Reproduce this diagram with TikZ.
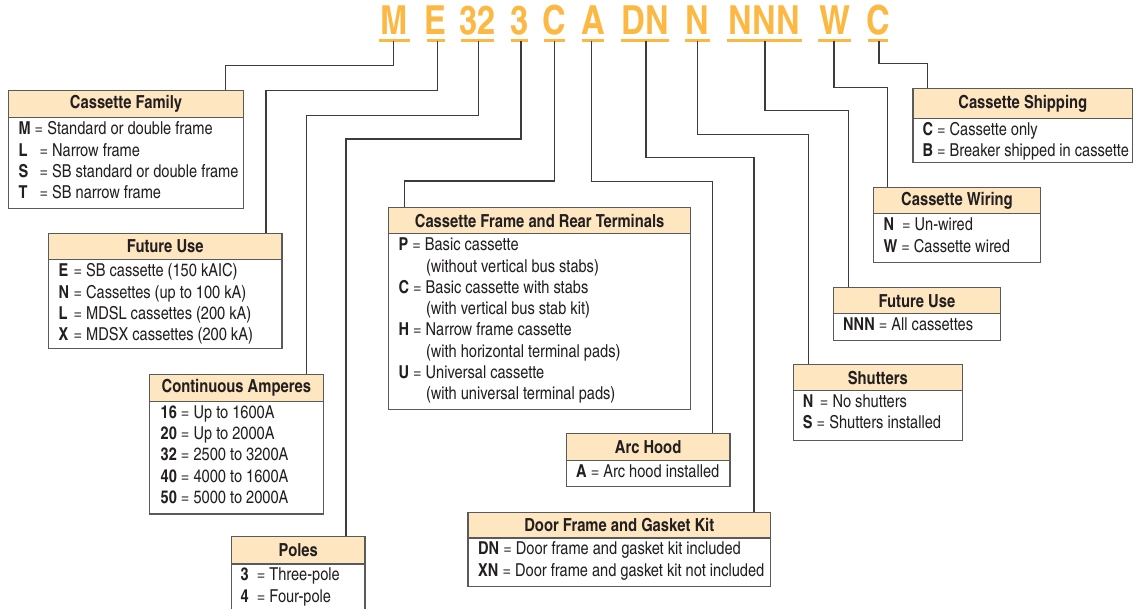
\documentclass[tikz,border=0pt]{standalone}
\usepackage{fontspec}
\setmainfont{texgyreheroscn}[Extension=.otf, UprightFont=*-regular, BoldFont=*-bold, ItalicFont=*-italic, BoldItalicFont=*-bolditalic]
\definecolor{codeor}{HTML}{FDB843}
\definecolor{hdrfill}{HTML}{FDE6C0}
\definecolor{linegray}{HTML}{3C3C3C}
\definecolor{boxgray}{HTML}{5A5A5A}
\definecolor{txt}{HTML}{231F20}
\newcommand\ky[2]{\makebox[#1][l]{\textbf{#2}}}
\newcommand\cbox[7]{%
  \node[bodyb, minimum width={(#4-#2)*1pt}, minimum height={(#6-#5)*1pt}] (#1-b) at (#2,#5) {};
  \node[hdr, minimum width={(#4-#2)*1pt}, minimum height={(#5-#3)*1pt}] (#1) at (#2,#3) {#7};
}
\newcommand\rws[4]{%
  \foreach \t [count=\i] in {#4} \node[row] (#1-r\i) at (#2, {#3+(\i-1)*21.3}) {\t};
}
\begin{document}
\begin{tikzpicture}[x=1pt,y=-1pt,
  code/.style={font=\fontsize{40}{40}\selectfont\bfseries, text=codeor, anchor=base, inner sep=0pt},
  uline/.style={draw=codeor, line width=2.6pt},
  conn/.style={draw=linegray, line width=1.3pt},
  hdr/.style={draw=boxgray, line width=1.2pt, fill=hdrfill, anchor=north west, inner sep=0pt, font=\fontsize{18}{18}\selectfont\bfseries, text=txt},
  bodyb/.style={draw=boxgray, line width=1.2pt, fill=white, anchor=north west, inner sep=0pt},
  row/.style={anchor=base west, inner sep=0pt, font=\fontsize{17.8}{17.8}\selectfont, text=txt},
]
\useasboundingbox (0,0) rectangle (1133,609);
\clip (0,0) rectangle (1133,609);

% code letters
\node[code] (cM)   at (394.2,35) {M};
\node[code] (cE)   at (435.8,35) {E};
\node[code] (c32)  at (477.9,35) {32};
\node[code] (c3)   at (519.6,35) {3};
\node[code] (cC)   at (554.8,35) {C};
\node[code] (cA)   at (593.2,35) {A};
\node[code] (cDN)  at (645.2,35) {DN};
\node[code] (cN)   at (697.5,35) {N};
\node[code] (cNNN) at (764.2,35) {NNN};
\node[code] (cW)   at (834.5,35) {W};
\node[code] (cC2)  at (878.2,35) {C};
\draw[uline] (378.8,40.6) -- (409.6,40.6);
\draw[uline] (426.5,40.6) -- (445,40.6);
\draw[uline] (461.3,40.6) -- (494.4,40.6);
\draw[uline] (511.3,40.6) -- (527.9,40.6);
\draw[uline] (544.4,40.6) -- (565.1,40.6);
\draw[uline] (582,40.6) -- (604.3,40.6);
\draw[uline] (621.2,40.6) -- (669.2,40.6);
\draw[uline] (685.1,40.6) -- (709.8,40.6);
\draw[uline] (726.7,40.6) -- (801.7,40.6);
\draw[uline] (817.9,40.6) -- (851.1,40.6);
\draw[uline] (868,40.6) -- (888.3,40.6);

% boxes
\cbox{cf}{8}{90}{242.7}{117.3}{208.3}{Cassette Family}
\rws{cf}{18.3}{134.8}{{\textbf{M} = Standard or double frame},{\ky{17pt}{L} = Narrow frame},{\ky{17pt}{S} = SB standard or double frame},{\ky{17pt}{T} = SB narrow frame}}

\cbox{fu}{48}{232.7}{281.3}{259.3}{348.3}{Future Use}
\rws{fu}{58.3}{276.8}{{\ky{11pt}{E} = SB cassette (150 kAIC)},{\ky{11pt}{N} = Cassettes (up to 100 kA)},{\ky{11pt}{L} = MDSL cassettes (200 kA)},{\ky{11pt}{X} = MDSX cassettes (200 kA)}}

\cbox{ca}{148.7}{374}{322.7}{400.7}{513.3}{Continuous Amperes}
\rws{ca}{160.5}{418.2}{{\textbf{16} = Up to 1600A},{\textbf{20} = Up to 2000A},{\textbf{32} = 2500 to 3200A},{\textbf{40} = 4000 to 1600A},{\textbf{50} = 5000 to 2000A}}

\cbox{po}{231}{536}{364.3}{563.3}{630}{Poles}
\rws{po}{240.5}{580.8}{{\ky{12pt}{3} = Three-pole},{\ky{12pt}{4} = Four-pole}}

\cbox{fr}{388}{206.7}{690}{233.3}{409}{Cassette Frame and Rear Terminals}
\rws{fr}{398.3}{250.8}{{\textbf{P} = Basic cassette},{\hspace*{27.5pt}(without vertical bus stabs)},{\textbf{C} = Basic cassette with stabs},{\hspace*{27.5pt}(with vertical bus stab kit)},{\textbf{H} = Narrow frame cassette},{\hspace*{27.5pt}(with horizontal terminal pads)},{\textbf{U} = Universal cassette},{\hspace*{27.5pt}(with universal terminal pads)}}

\cbox{ah}{565.7}{433.3}{729.3}{460}{486}{Arc Hood}
\rws{ah}{576}{477.5}{{\textbf{A} = Arc hood installed}}

\cbox{df}{467.3}{511.7}{770}{537.3}{585.7}{Door Frame and Gasket Kit}
\rws{df}{478}{554.8}{{\textbf{DN} = Door frame and gasket kit included},{\textbf{XN} = Door frame and gasket kit not included}}

\cbox{sh}{792.7}{364}{961.7}{390}{440}{Shutters}
\rws{sh}{802.7}{407.5}{{\ky{13pt}{N} = No shutters},{\textbf{S} = Shutters installed}}

\cbox{fv}{832.7}{287.3}{1000}{313.3}{340}{Future Use}
\rws{fv}{843}{330.8}{{\textbf{NNN} = All cassettes}}

\cbox{cw}{872.7}{187.3}{1040}{213.3}{261.7}{Cassette Wiring}
\rws{cw}{883.3}{230.8}{{\ky{14.5pt}{N} = Un-wired},{\textbf{W} = Cassette wired}}

\cbox{cs}{912.3}{88.3}{1132}{117.7}{161.7}{Cassette Shipping}
\rws{cs}{922.3}{135.2}{{\textbf{C} = Cassette only},{\textbf{B} = Breaker shipped in cassette}}

% connector start points (on the underlines) and end points (on box tops)
\coordinate (sM) at (393.7,40.6);   \coordinate (tM) at (cf.north -| 225.3,0);
\coordinate (sE) at (437.7,40.6);   \coordinate (tE) at (fu.north -| 266,0);
\coordinate (s32) at (478.7,40.6);  \coordinate (t32) at (ca.north -| 306.7,0);
\coordinate (s3) at (521,40.6);     \coordinate (t3) at (po.north -| 346,0);
\coordinate (sC) at (554.3,40.6);   \coordinate (tC) at (fr.north -| 404.3,0);
\coordinate (sA) at (591.7,40.6);   \coordinate (tA) at (ah.north -| 712.7,0);
\coordinate (sDN) at (646,40.6);    \coordinate (tDN) at (df.north -| 754,0);
\coordinate (sN) at (697.7,40.6);   \coordinate (tN) at (sh.north -| 808.3,0);
\coordinate (sNNN) at (765,40.6);   \coordinate (tNNN) at (fv.north -| 848.3,0);
\coordinate (sW) at (834,40.6);     \coordinate (tW) at (cw.north -| 887.7,0);
\coordinate (sC2) at (879.1,40.6);  \coordinate (tC2) at (cs.north -| 927.3,0);

\draw[conn] (sM) -- ++(0,25.1) -| (tM);
\draw[conn] (sE) -- ++(0,50.1) -| (tE);
\draw[conn] (s32) -- ++(0,75.1) -| (t32);
\draw[conn] (s3) -- ++(0,98.4) -| (t3);
\draw[conn] (sC) -- ++(0,140.4) -| (tC);
\draw[conn] (sA) -- ++(0,141.1) -| (tA);
\draw[conn] (sDN) -- ++(0,117.1) -| (tDN);
\draw[conn] (sN) -- ++(0,93.7) -| (tN);
\draw[conn] (sNNN) -- ++(0,70.1) -| (tNNN);
\draw[conn] (sW) -- ++(0,46.7) -| (tW);
\draw[conn] (sC2) -- ++(0,22.6) -| (tC2);
\end{tikzpicture}
\end{document}
